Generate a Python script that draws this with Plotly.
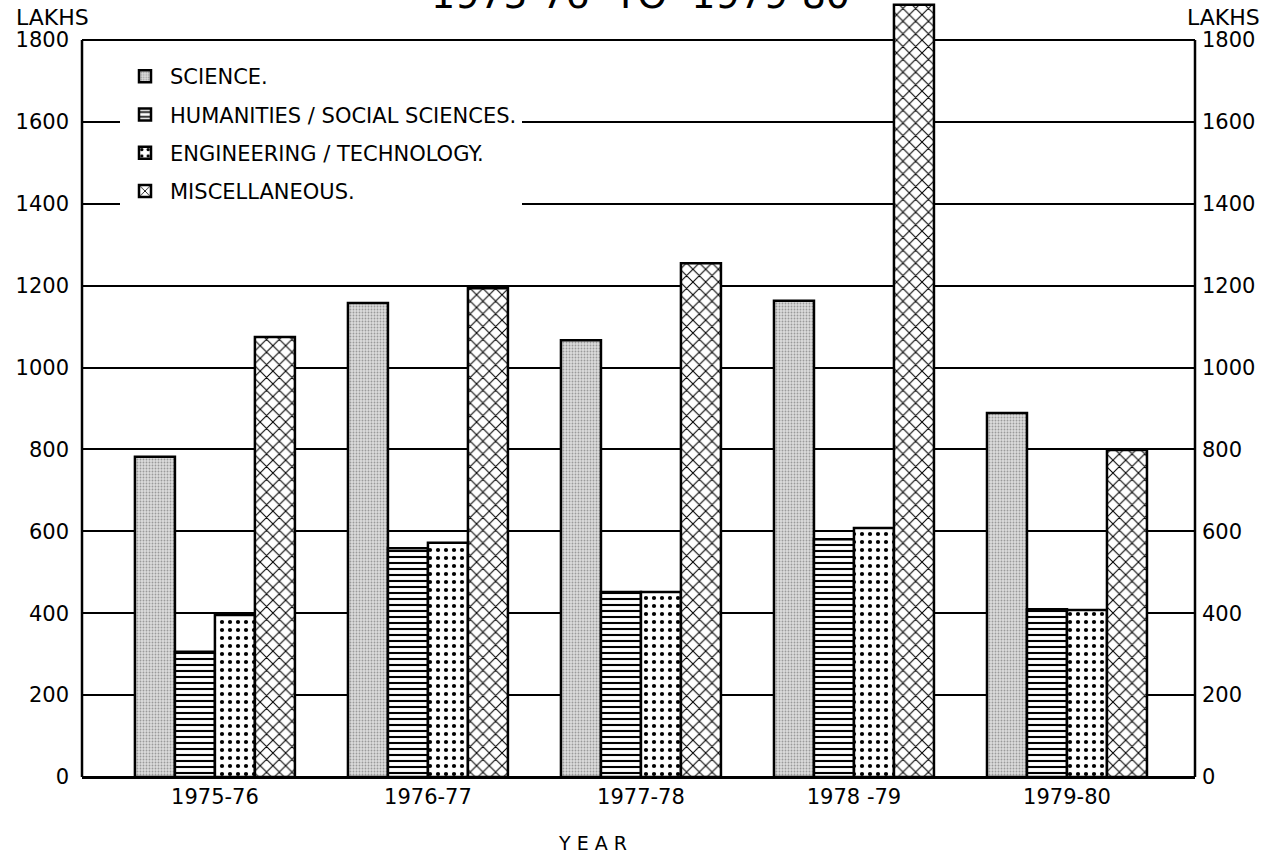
import plotly.graph_objects as go

years = ["1975-76", "1976-77", "1977-78", "1978 -79", "1979-80"]
science = [782, 1158, 1067, 1163, 889]
humanities = [306, 559, 452, 581, 410]
engineering = [396, 572, 452, 608, 408]
misc = [1075, 1194, 1255, 1886, 799]

names = ["SCIENCE.", "HUMANITIES / SOCIAL SCIENCES.", "ENGINEERING / TECHNOLOGY.", "MISCELLANEOUS."]
tick_vals = [0, 200, 400, 600, 800, 1000, 1200, 1400, 1600, 1800]
FONT = "DejaVu Sans"

# layout geometry (pixels)
L, R, T, B = 82, 74, 2, 82
Y_TOP = 1893  # value at the top edge of the plotting area (bar of 1978-79 rises above 1800)

fig = go.Figure()
styles = [
    dict(shape=".", bgcolor="#dcdcdc", fgcolor="#9a9a9a", size=3, solidity=0.3),
    dict(shape="-", bgcolor="white", fgcolor="black", size=6, solidity=0.35),
    dict(shape=".", bgcolor="white", fgcolor="black", size=8, solidity=0.22),
    dict(shape="x", bgcolor="white", fgcolor="black", size=9, solidity=0.22),
]
for name, vals, st in zip(names, [science, humanities, engineering, misc], styles):
    fig.add_trace(go.Bar(
        x=years, y=vals, name=name, legendgroup=name,
        marker=dict(color=st["bgcolor"], line=dict(color="black", width=2.5),
                    pattern=dict(fillmode="replace", **st)),
    ))

# invisible trace carrying the right-hand axis
fig.add_trace(go.Scatter(x=years, y=[0] * len(years), yaxis="y2", mode="markers",
                         marker=dict(opacity=0), showlegend=False, hoverinfo="skip"))

H = 859 - T - B
def py(p):
    return (859 - B - p) / H

W = 1269 - L - R
def px(p):
    return (p - L) / W

fig.update_layout(
    width=1269, height=859,
    margin=dict(l=L, r=R, t=T, b=B),
    paper_bgcolor="white", plot_bgcolor="white",
    barmode="group", bargap=0.249, bargroupgap=0,
    font=dict(family=FONT, color="black"),
    showlegend=True,
    legend=dict(x=px(120), y=py(56), xanchor="left", yanchor="top",
                bgcolor="white", font=dict(size=21, family=FONT),
                traceorder="grouped", tracegroupgap=8, itemwidth=40),
    xaxis=dict(range=[-0.624, 4.601], showline=True, linecolor="black", linewidth=2,
               ticks="", tickfont=dict(size=21, family=FONT), showgrid=False),
    yaxis=dict(range=[0, Y_TOP], tickvals=tick_vals, showgrid=True, gridcolor="black",
               gridwidth=2, showline=False, zeroline=True,
               zerolinecolor="black", zerolinewidth=2, ticks="",
               ticklabelstandoff=12, tickfont=dict(size=21, family=FONT)),
    yaxis2=dict(range=[0, Y_TOP], tickvals=tick_vals, overlaying="y", side="right",
                showgrid=False, showline=False, zeroline=False, ticks="",
                ticklabelstandoff=6, tickfont=dict(size=21, family=FONT)),
    shapes=[
        dict(type="line", xref="paper", yref="y", x0=0, x1=0, y0=0, y1=1800,
             line=dict(color="black", width=2.5)),
        dict(type="line", xref="paper", yref="y", x0=1, x1=1, y0=0, y1=1800,
             line=dict(color="black", width=2.5)),
    ],
    annotations=[
        dict(text="1975-76  TO  1979-80", xref="paper", yref="paper", x=px(640), y=py(19),
             xanchor="center", yanchor="bottom", showarrow=False,
             font=dict(size=38, family=FONT)),
        dict(text="LAKHS", xref="paper", yref="paper", x=px(14), y=py(17),
             xanchor="left", yanchor="middle", showarrow=False,
             font=dict(size=22, family=FONT)),
        dict(text="LAKHS", xref="paper", yref="paper", x=px(1262), y=py(17),
             xanchor="right", yanchor="middle", showarrow=False,
             font=dict(size=22, family=FONT)),
        dict(text="Y E A R", xref="paper", yref="paper", x=px(592), y=py(843),
             xanchor="center", yanchor="middle", showarrow=False,
             font=dict(size=19, family=FONT)),
    ],
)

fig.write_html("out.html", config={"displayModeBar": False},
               post_script="document.body.style.margin='0';")
